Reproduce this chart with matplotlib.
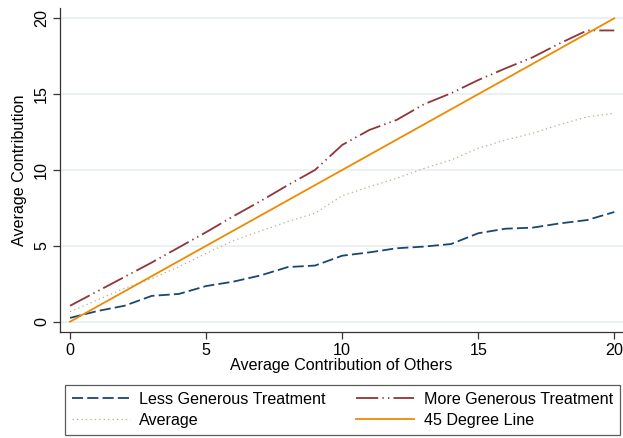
import matplotlib
matplotlib.use("Agg")
import matplotlib.pyplot as plt

plt.rcParams['font.family'] = ['Liberation Sans', 'DejaVu Sans']
plt.rcParams['lines.scale_dashes'] = False

x = list(range(21))
less_generous = [0.25, 0.7, 1.05, 1.7, 1.83, 2.35, 2.64, 3.05, 3.6, 3.7, 4.35,
                 4.57, 4.84, 4.95, 5.12, 5.83, 6.13, 6.2, 6.48, 6.7, 7.23]
more_generous = [1.05, 2.0, 2.95, 3.9, 4.9, 5.9, 6.95, 7.95, 9.0, 10.0, 11.65,
                 12.64, 13.3, 14.33, 15.06, 15.93, 16.7, 17.43, 18.35, 19.2, 19.2]
average = [0.66, 1.43, 2.2, 2.84, 3.63, 4.5, 5.34, 5.98, 6.6, 7.15, 8.3,
           8.9, 9.45, 10.1, 10.66, 11.43, 11.98, 12.42, 13.0, 13.5, 13.74]
deg45_x = [0, 20]
deg45_y = [0, 20]
ticks = [0, 5, 10, 15, 20]

navy = '#1a476f'
maroon = '#90353b'
khaki = '#bdb595'
orange = '#ee8a00'
fs = 11.6

fig = plt.figure(figsize=(6.23, 4.38), dpi=100)
ax = fig.add_axes([60/623, (438-331.7)/438, (623-60)/623, (331.7-8)/438])

for yv in ticks:
    ax.axhline(yv, color='#e6eef0', lw=1.1, zorder=0)

l1, = ax.plot(x, less_generous, color=navy, lw=1.3, dashes=(8.0, 3.0),
              label='Less Generous Treatment')
l2, = ax.plot(x, more_generous, color=maroon, lw=1.3,
              dashes=(16, 3, 1, 3, 1, 3), label='More Generous Treatment')
l3, = ax.plot(x, average, color=khaki, lw=0.9, dashes=(1, 2.2), label='Average')
l4, = ax.plot(deg45_x, deg45_y, color=orange, lw=1.3, label='45 Degree Line')

ax.set_xlim(-0.37, 20.32)
ax.set_ylim(-0.66, 20.68)
ax.set_xticks(ticks)
ax.set_yticks(ticks)
ax.set_yticklabels([str(t) for t in ticks], rotation=90, va='center')
ax.tick_params(axis='both', direction='out', length=5, width=0.9,
               color='#333333', labelsize=fs, pad=3)
for s in ['top', 'right']:
    ax.spines[s].set_visible(False)
for s in ['left', 'bottom']:
    ax.spines[s].set_color('#333333')
    ax.spines[s].set_linewidth(0.9)

ax.set_xlabel('Average Contribution of Others', fontsize=fs, labelpad=0)
ax.set_ylabel('Average Contribution', fontsize=fs, labelpad=5)

leg = fig.legend(handles=[l1, l3, l2, l4], ncol=2, mode='expand',
                 loc='upper left',
                 bbox_to_anchor=(65/623, (438-385)/438, (620-65)/623, 0),
                 frameon=True, fancybox=False, edgecolor='#333333',
                 fontsize=fs, handlelength=3.6, handletextpad=0.6,
                 borderpad=0.42, labelspacing=0.38, borderaxespad=0)
leg.get_frame().set_linewidth(0.9)

fig.savefig('out.png', dpi=100, facecolor='white')
